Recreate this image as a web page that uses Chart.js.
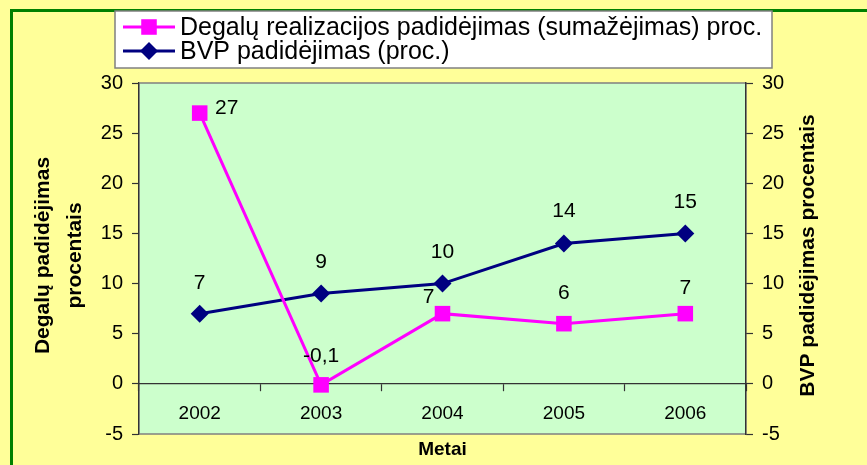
<!DOCTYPE html>
<html>
<head>
<meta charset="utf-8">
<script src="https://cdn.jsdelivr.net/npm/chart.js@4"></script>
<style>
  html, body { margin: 0; padding: 0; background: #ffff99; }
  #wrap { width: 867px; height: 465px; }
</style>
</head>
<body>
<div id="wrap"><canvas id="c" width="867" height="465"></canvas></div>
<script>
const years = ['2002', '2003', '2004', '2005', '2006'];
const fuelGrowth = [27, -0.1, 7, 6, 7];
const gdpGrowth = [7, 9, 10, 14, 15];
const fuelLabels = ['27', '-0,1', '7', '6', '7'];
const gdpLabels = ['7', '9', '10', '14', '15'];
const legendNames = ['Degalų realizacijos padidėjimas (sumažėjimas) proc.', 'BVP padidėjimas (proc.)'];

const color_pink = '#ff00ff';
const color_navy = '#000080';
const font = '"Liberation Sans", Arial, sans-serif';

// label offsets relative to the point (dx, dy)
const fuelOffsets = [[27, -5], [0, -29], [-14, -16], [0, -30], [0, -25]];
const gdpOffsets = [[0, -30], [0, -31], [0, -31], [0, -32], [0, -31]];

const frame = {
    id: 'frame',
    beforeDraw(chart) {
        const { ctx, chartArea: a } = chart;
        ctx.save();
        ctx.fillStyle = '#ffff99';
        ctx.fillRect(0, 0, chart.width, chart.height);
        ctx.strokeStyle = '#008000';
        ctx.lineWidth = 3;
        ctx.beginPath();
        ctx.moveTo(11.5, chart.height + 5);
        ctx.lineTo(11.5, 10.5);
        ctx.lineTo(chart.width + 5, 10.5);
        ctx.stroke();
        ctx.fillStyle = '#ccffcc';
        ctx.fillRect(a.left, a.top, a.right - a.left, a.bottom - a.top);
        ctx.strokeStyle = '#808080';
        ctx.lineWidth = 1.5;
        ctx.strokeRect(a.left, a.top, a.right - a.left, a.bottom - a.top);
        ctx.restore();
    },
    afterDraw(chart) {
        const { ctx, chartArea: a } = chart;
        ctx.save();
        // data labels
        ctx.fillStyle = '#000';
        ctx.font = '21px ' + font;
        ctx.textAlign = 'center';
        ctx.textBaseline = 'middle';
        [[1, gdpLabels, gdpOffsets], [0, fuelLabels, fuelOffsets]].forEach(([di, lbls, offs]) => {
            chart.getDatasetMeta(di).data.forEach((pt, i) => {
                ctx.fillText(lbls[i], pt.x + offs[i][0], pt.y + offs[i][1]);
            });
        });

        // axis titles
        ctx.font = 'bold 21px ' + font;
        ctx.save();
        ctx.translate(59, (a.top + a.bottom) / 2 - 3);
        ctx.rotate(-Math.PI / 2);
        ctx.fillText('Degalų padidėjimas', 0, -16);
        ctx.fillText('procentais', 0, 16);
        ctx.restore();
        ctx.save();
        ctx.translate(808, (a.top + a.bottom) / 2 - 3);
        ctx.rotate(-Math.PI / 2);
        ctx.fillText('BVP padidėjimas procentais', 0, 0);
        ctx.restore();
        ctx.font = 'bold 19px ' + font;
        ctx.fillText('Metai', (a.left + a.right) / 2, 450);

        // legend
        ctx.fillStyle = '#ffffff';
        ctx.fillRect(115, 11, 657, 57);
        ctx.strokeStyle = '#808080';
        ctx.lineWidth = 1.5;
        ctx.strokeRect(115, 11, 657, 57);
        const rows = [[27, color_pink, 'rect'], [51, color_navy, 'rectRot']];
        rows.forEach(([y, col, style], i) => {
            ctx.strokeStyle = col;
            ctx.lineWidth = 3;
            ctx.beginPath();
            ctx.moveTo(123, y);
            ctx.lineTo(175, y);
            ctx.stroke();
            ctx.fillStyle = col;
            Chart.helpers.drawPoint(ctx, { pointStyle: style, radius: style === 'rect' ? 11 : 9, borderWidth: 0 }, 149, y);
            ctx.fillStyle = '#000';
            ctx.font = '25px ' + font;
            ctx.textAlign = 'left';
            ctx.fillText(legendNames[i], 180, y + 1);
        });
        ctx.restore();
    }
};

const yTicks = { color: '#000', font: { family: font, size: 20 }, stepSize: 5, padding: 9 };

new Chart(document.getElementById('c'), {
    type: 'line',
    data: {
        labels: years,
        datasets: [
            { label: legendNames[0], data: fuelGrowth, yAxisID: 'y', borderColor: color_pink, backgroundColor: color_pink, borderWidth: 3, pointStyle: 'rect', pointRadius: 11, pointBorderWidth: 0, tension: 0 },
            { label: legendNames[1], data: gdpGrowth, yAxisID: 'y1', borderColor: color_navy, backgroundColor: color_navy, borderWidth: 3, pointStyle: 'rectRot', pointRadius: 9, pointBorderWidth: 0, tension: 0 },
        ],
    },
    options: {
        responsive: false,
        animation: false,
        layout: { padding: { top: 83, bottom: 31, left: 0, right: 0 } },
        plugins: { legend: { display: false }, tooltip: { enabled: false } },
        scales: {
            x: {
                type: 'category',
                position: { y: 0 },
                offset: true,
                grid: { offset: true, drawOnChartArea: false, color: '#333', tickLength: 7, tickWidth: 1.2 },
                border: { display: true, color: '#333', width: 1.2 },
                ticks: { color: '#000', font: { family: font, size: 19 }, padding: 12 },
            },
            y: {
                position: 'left',
                min: -5,
                max: 30,
                ticks: yTicks,
                grid: { drawOnChartArea: false, color: '#333', tickLength: 7, tickWidth: 1.2 },
                border: { color: '#333', width: 1.2 },
                afterFit: (s) => { s.width = 139; },
            },
            y1: {
                position: 'right',
                min: -5,
                max: 30,
                ticks: yTicks,
                grid: { drawOnChartArea: false, color: '#333', tickLength: 7, tickWidth: 1.2 },
                border: { color: '#333', width: 1.2 },
                afterFit: (s) => { s.width = 121; },
            },
        },
    },
    plugins: [frame],
});
</script>
</body>
</html>
